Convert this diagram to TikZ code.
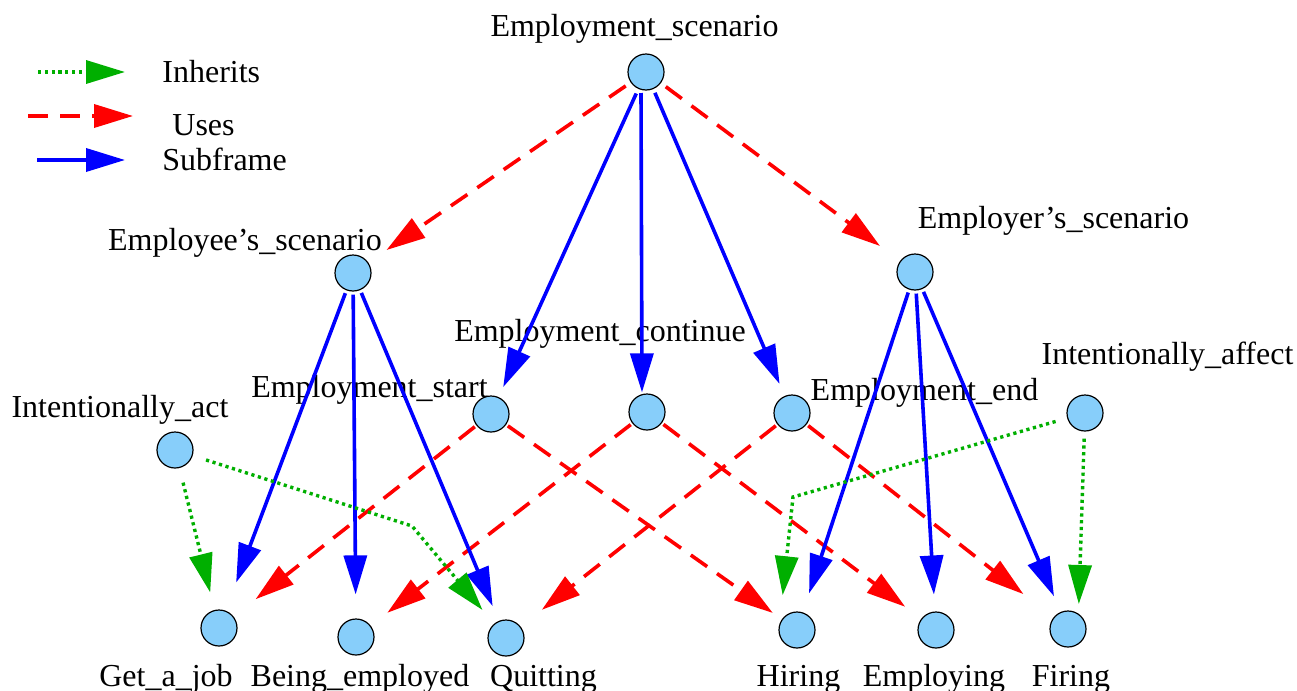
\documentclass[tikz,border=0pt]{standalone}
\usepackage{fontspec}
\setmainfont{Liberation Serif}
\usetikzlibrary{arrows.meta}

\definecolor{framefill}{RGB}{135,206,250}
\definecolor{inhgreen}{RGB}{0,175,0}
\definecolor{usered}{RGB}{255,0,0}
\definecolor{subblue}{RGB}{0,0,255}

\tikzset{
  frame/.style={circle, draw=black, line width=0.6pt, fill=framefill,
                minimum size=18pt, inner sep=0pt},
  lbl/.style={anchor=base, inner sep=0pt, font=\fontsize{16}{19}\selectfont},
  lbll/.style={anchor=base west, inner sep=0pt, font=\fontsize{16}{19}\selectfont},
  tip/.style={-{Triangle[length=19.5pt,width=11.5pt]}},
  subrel/.style={tip, draw=subblue, line width=1.8pt},
  userel/.style={tip, draw=usered, line width=1.8pt,
                 dash pattern=on 10pt off 6pt},
  inhrel/.style={tip, draw=inhgreen, line width=1.7pt,
                 dash pattern=on 1.6pt off 1.8pt},
}

\begin{document}
\begin{tikzpicture}[x=0.5pt, y=-0.5pt]
  \useasboundingbox (0,0) rectangle (1297,691);

  % frames
  \node[frame] (es)  at (646,72)  {};
  \node[frame] (ees) at (353,273) {};
  \node[frame] (ers) at (915,272) {};
  \node[frame] (est) at (491,414) {};
  \node[frame] (ec)  at (647,412) {};
  \node[frame] (ee)  at (792,413) {};
  \node[frame] (ia)  at (175,450) {};
  \node[frame] (iaf) at (1085,413) {};
  \node[frame] (gj)  at (219,628) {};
  \node[frame] (be)  at (356,637) {};
  \node[frame] (qu)  at (506,638) {};
  \node[frame] (hi)  at (797,630) {};
  \node[frame] (em)  at (936,630) {};
  \node[frame] (fi)  at (1068,629) {};

  % frame names
  \node[lbl] (tes)  at (634.5,36)  {Employment\_scenario};
  \node[lbl] (tees) at (245,250)   {Employee’s\_scenario};
  \node[lbl] (ters) at (1053.5,228){Employer’s\_scenario};
  \node[lbl] (tec)  at (600,341)   {Employment\_continue};
  \node[lbl] (test) at (369.5,397) {Employment\_start};
  \node[lbl] (tee)  at (924.5,400) {Employment\_end};
  \node[lbl] (tia)  at (120,417)   {Intentionally\_act};
  \node[lbl] (tiaf) at (1167.5,364){Intentionally\_affect};
  \node[lbl] (tgj)  at (166,686)   {Get\_a\_job};
  \node[lbl] (tbe)  at (360,686)   {Being\_employed};
  \node[lbl] (tqu)  at (543.5,686) {Quitting};
  \node[lbl] (thi)  at (798.5,686) {Hiring};
  \node[lbl] (tem)  at (934,686)   {Employing};
  \node[lbl] (tfi)  at (1071,686)  {Firing};

  % bend points of the inheritance links
  \coordinate (b1) at (412,526);
  \coordinate (b2) at (793,497);

  % Uses
  \draw[userel, shorten <=3pt, shorten >=11pt]   (es)  -- (ees);
  \draw[userel, shorten <=3pt, shorten >=12.5pt] (es)  -- (ers);
  \draw[userel, shorten <=1pt, shorten >=5.5pt]  (est) -- (hi);
  \draw[userel, shorten <=1pt, shorten >=14pt]   (est) -- (gj);
  \draw[userel, shorten <=1pt, shorten >=10.5pt] (ec)  -- (be);
  \draw[userel, shorten <=1pt, shorten >=10pt]   (ec)  -- (em);
  \draw[userel, shorten <=1pt, shorten >=13.5pt] (ee)  -- (qu);
  \draw[userel, shorten <=1pt, shorten >=19pt]   (ee)  -- (fi);

  % Subframe
  \draw[subrel, shorten <=2.5pt, shorten >=5.5pt] (es) -- (est);
  \draw[subrel, shorten <=1.2pt, shorten >=0.5pt]
       ([xshift=-2.5pt]es.south) -- ([xshift=-2.5pt]ec.north);
  \draw[subrel, shorten <=2pt, shorten >=6.5pt]   (es) -- (ee);
  \draw[subrel, shorten <=1.5pt, shorten >=15pt]  (ees) -- (gj);
  \draw[subrel, shorten <=1.5pt, shorten >=12pt]  (ees) -- (be);
  \draw[subrel, shorten <=1.5pt, shorten >=8pt]   (ees) -- (qu);
  \draw[subrel, shorten <=1.5pt, shorten >=10pt]  (ers) -- (hi);
  \draw[subrel, shorten <=1.5pt, shorten >=8.5pt] (ers) -- (em);
  \draw[subrel, shorten <=1.5pt, shorten >=8.5pt] (ers) -- (fi);

  % Inherits
  \draw[inhrel, shorten <=7.5pt, shorten >=9pt] (ia) -- (gj);
  \draw[inhrel, shorten <=7pt, shorten >=9pt]   (ia) -- (b1) -- (qu);
  \draw[inhrel, shorten <=6pt, shorten >=17.5pt] (iaf) -- (b2) -- ([xshift=-9pt]hi.center);
  \draw[inhrel, shorten <=3.5pt, shorten >=12.5pt] (iaf) -- ([xshift=5pt]fi.center);

  % legend
  \coordinate (l1a) at (38,72);  \coordinate (l1b) at (125,72);
  \coordinate (l2a) at (28,116); \coordinate (l2b) at (133,116);
  \coordinate (l3a) at (37,160); \coordinate (l3b) at (125,160);
  \draw[inhrel] (l1a) -- (l1b);
  \draw[userel] (l2a) -- (l2b);
  \draw[subrel] (l3a) -- (l3b);
  \node[lbll] (kinh) at (162,82)  {Inherits};
  \node[lbll] (kuse) at (172,135) {Uses};
  \node[lbll] (ksub) at (162,170) {Subframe};
\end{tikzpicture}
\end{document}
